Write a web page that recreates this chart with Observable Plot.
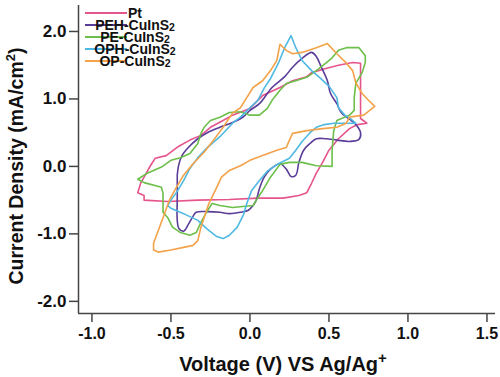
<!DOCTYPE html>
<html><head><meta charset="utf-8">
<script src="https://cdn.jsdelivr.net/npm/d3@7"></script>
<script src="https://cdn.jsdelivr.net/npm/@observablehq/plot@0.6"></script>
<style>
body{margin:0;background:#fff;}
#chart{width:500px;height:377px;}
</style></head><body><div id="chart"></div>
<script>
const seriesNames = ["Pt","PEH-CuInS2","PE-CuInS2","OPH-CuInS2","OP-CuInS2"];
const seriesColors = ["#e6548c","#5a3d98","#6cbf4a","#4fb9e3","#f3a24a"];
const xTicks = [-1.0,-0.5,0.0,0.5,1.0,1.5];
const yTicks = [-2,-1,0,1,2];

// [Voltage (V), Current density (mA/cm2)]
const pt = [[-0.67,-0.50],[-0.52,-0.52],[-0.33,-0.50],[-0.13,-0.49],[0.05,-0.47],[0.21,-0.47],[0.31,-0.43],[0.36,-0.39],[0.39,-0.25],[0.42,-0.10],[0.46,0.06],[0.50,0.24],[0.56,0.41],[0.63,0.56],[0.68,0.62],[0.74,0.64],[0.70,0.71],[0.70,0.98],[0.70,1.27],[0.70,1.53],[0.65,1.54],[0.56,1.50],[0.48,1.45],[0.39,1.39],[0.36,1.33],[0.27,1.27],[0.19,1.17],[0.08,1.05],[0.00,0.86],[-0.11,0.76],[-0.17,0.68],[-0.25,0.58],[-0.31,0.46],[-0.38,0.39],[-0.45,0.30],[-0.53,0.16],[-0.60,0.12],[-0.63,0.01],[-0.67,-0.16],[-0.69,-0.24],[-0.71,-0.39],[-0.67,-0.43]];
const peh = [[-0.46,-0.13],[-0.46,-0.46],[-0.46,-0.80],[-0.45,-0.92],[-0.42,-0.96],[-0.39,-0.86],[-0.36,-0.74],[-0.34,-0.68],[-0.27,-0.67],[-0.19,-0.68],[-0.13,-0.70],[-0.06,-0.68],[-0.01,-0.65],[0.02,-0.58],[0.04,-0.50],[0.06,-0.33],[0.09,-0.16],[0.13,-0.04],[0.19,0.04],[0.23,-0.04],[0.26,-0.15],[0.29,-0.13],[0.31,0.06],[0.34,0.24],[0.38,0.34],[0.42,0.41],[0.48,0.41],[0.55,0.39],[0.63,0.37],[0.69,0.40],[0.70,0.50],[0.67,0.62],[0.63,0.70],[0.58,0.79],[0.55,0.93],[0.51,1.08],[0.49,1.27],[0.45,1.48],[0.42,1.63],[0.39,1.69],[0.33,1.60],[0.27,1.47],[0.22,1.33],[0.14,1.17],[0.06,0.93],[0.00,0.83],[-0.04,0.74],[-0.11,0.65],[-0.19,0.58],[-0.27,0.50],[-0.33,0.41],[-0.39,0.28],[-0.43,0.16],[-0.45,0.03]];
const pe = [[-0.71,-0.19],[-0.67,-0.24],[-0.56,-0.31],[-0.55,-0.40],[-0.55,-0.68],[-0.52,-0.76],[-0.49,-0.90],[-0.44,-0.98],[-0.38,-1.02],[-0.34,-0.98],[-0.31,-0.83],[-0.28,-0.70],[-0.24,-0.55],[-0.19,-0.58],[-0.11,-0.61],[-0.03,-0.59],[0.02,-0.58],[0.04,-0.50],[0.08,-0.36],[0.13,-0.16],[0.19,0.03],[0.25,0.06],[0.33,0.06],[0.42,0.01],[0.52,0.00],[0.52,0.24],[0.53,0.53],[0.55,0.68],[0.63,0.76],[0.66,0.83],[0.66,1.02],[0.67,1.23],[0.71,1.39],[0.73,1.54],[0.73,1.64],[0.69,1.76],[0.61,1.76],[0.56,1.72],[0.52,1.61],[0.48,1.53],[0.42,1.42],[0.36,1.32],[0.29,1.27],[0.23,1.23],[0.19,1.13],[0.14,0.98],[0.11,0.86],[0.06,0.76],[0.00,0.76],[-0.06,0.81],[-0.13,0.80],[-0.19,0.73],[-0.25,0.68],[-0.29,0.58],[-0.31,0.49],[-0.33,0.34],[-0.38,0.19],[-0.44,0.13],[-0.50,0.09],[-0.56,-0.01],[-0.65,-0.10]];
const oph = [[-0.52,-0.58],[-0.50,-0.62],[-0.42,-0.70],[-0.33,-0.80],[-0.27,-0.93],[-0.21,-1.04],[-0.17,-1.07],[-0.13,-1.02],[-0.08,-0.90],[-0.04,-0.71],[-0.02,-0.55],[0.01,-0.36],[0.06,-0.21],[0.11,-0.07],[0.18,0.04],[0.25,0.12],[0.29,0.24],[0.33,0.37],[0.38,0.50],[0.42,0.58],[0.47,0.62],[0.53,0.64],[0.61,0.64],[0.67,0.64],[0.64,0.70],[0.60,0.76],[0.56,0.87],[0.55,1.02],[0.50,1.19],[0.44,1.32],[0.39,1.42],[0.33,1.57],[0.29,1.76],[0.26,1.94],[0.22,1.76],[0.18,1.53],[0.13,1.30],[0.09,1.16],[0.05,0.98],[0.00,0.87],[-0.06,0.73],[-0.11,0.64],[-0.19,0.44],[-0.27,0.28],[-0.33,0.13],[-0.38,-0.03],[-0.42,-0.21],[-0.46,-0.37],[-0.50,-0.50]];
const op = [[0.19,1.81],[0.17,1.57],[0.13,1.42],[0.08,1.27],[0.02,1.17],[-0.02,1.02],[-0.06,0.87],[-0.11,0.79],[-0.17,0.58],[-0.23,0.39],[-0.29,0.21],[-0.36,0.04],[-0.42,-0.13],[-0.47,-0.33],[-0.51,-0.50],[-0.55,-0.76],[-0.58,-0.95],[-0.61,-1.14],[-0.61,-1.24],[-0.58,-1.27],[-0.50,-1.24],[-0.42,-1.20],[-0.36,-1.17],[-0.33,-1.10],[-0.31,-0.90],[-0.29,-0.76],[-0.26,-0.55],[-0.22,-0.36],[-0.18,-0.16],[-0.13,-0.06],[-0.06,0.01],[0.00,0.09],[0.08,0.16],[0.17,0.24],[0.23,0.28],[0.25,0.39],[0.27,0.49],[0.36,0.53],[0.46,0.56],[0.55,0.58],[0.61,0.64],[0.63,0.73],[0.72,0.76],[0.79,0.89],[0.75,0.98],[0.71,1.08],[0.67,1.24],[0.65,1.42],[0.61,1.53],[0.55,1.67],[0.49,1.82],[0.42,1.76],[0.33,1.69],[0.27,1.67],[0.23,1.72]];

const loops = [pt, peh, pe, oph, op];
const curves = ["linear","catmull-rom","linear","linear","linear"];
const tables = loops.map((pts,i) => [...pts, pts[0]].map(p => ({series: seriesNames[i], V: p[0], J: p[1]})));

const xDomain = [-1.085, 1.554];
const yDomain = [-2.18, 2.385];
const fmt = d => d.toFixed(1);
const axisColor = "#444";

const plot = Plot.plot({
  width: 500, height: 377,
  marginLeft: 78, marginRight: 5, marginTop: 5, marginBottom: 64,
  style: {fontFamily: "'Liberation Sans', Arial, sans-serif", fontWeight: "bold", color: "#111", background: "#fff", overflow: "visible"},
  x: {domain: xDomain},
  y: {domain: yDomain},
  color: {domain: seriesNames, range: seriesColors},
  marks: [
    ...tables.map((t,i) => Plot.line(t, {x: "V", y: "J", stroke: seriesColors[i], strokeWidth: 1.6, curve: curves[i]})),
    Plot.axisX({ticks: xTicks, tickSize: 9, tickPadding: 5, tickFormat: fmt, label: null, fontSize: 16, stroke: axisColor, strokeWidth: 1.5}),
    Plot.axisY({ticks: yTicks, tickSize: 9, tickPadding: 3, tickFormat: fmt, label: null, fontSize: 17, stroke: axisColor, strokeWidth: 1.5}),
    Plot.ruleX([xDomain[0]], {stroke: axisColor, strokeWidth: 1.5}),
    Plot.ruleY([yDomain[0]], {stroke: axisColor, strokeWidth: 1.5})
  ]
});
document.getElementById("chart").appendChild(plot);

const svg = d3.select(plot);
const font = "'Liberation Sans', Arial, sans-serif";

// x-axis title
const xt = svg.append("text").attr("x", 283).attr("y", 371).attr("text-anchor", "middle")
  .attr("font-family", font).attr("font-weight", "bold").attr("font-size", 20).attr("fill", "#111");
xt.append("tspan").text("Voltage (V) VS Ag/Ag");
xt.append("tspan").attr("dy", -8).attr("font-size", 15).text("+");

// y-axis title
const yt = svg.append("text").attr("transform", "translate(23,166) rotate(-90)").attr("text-anchor", "middle")
  .attr("font-family", font).attr("font-weight", "bold").attr("font-size", 19.5).attr("fill", "#111");
yt.append("tspan").text("Current Density (mA/cm");
yt.append("tspan").attr("dy", -8).attr("font-size", 13).text("2");
yt.append("tspan").attr("dy", 8).text(")");

// legend
const lg = svg.append("g").attr("font-family", font).attr("font-weight", "bold").attr("font-size", 14).attr("fill", "#111");
seriesNames.forEach((name, i) => {
  const cy = 13 + i * 12;
  lg.append("line").attr("x1", 85).attr("x2", 127).attr("y1", cy).attr("y2", cy)
    .attr("stroke", seriesColors[i]).attr("stroke-width", 2);
  const t = lg.append("text").attr("x", 135).attr("y", cy + 5);
  if (name.endsWith("S2")) {
    t.append("tspan").text(name.slice(0, -1));
    t.append("tspan").attr("font-size", 10.5).attr("dy", 1).text("2");
  } else {
    t.append("tspan").text(name);
  }
});
</script>
</body></html>
